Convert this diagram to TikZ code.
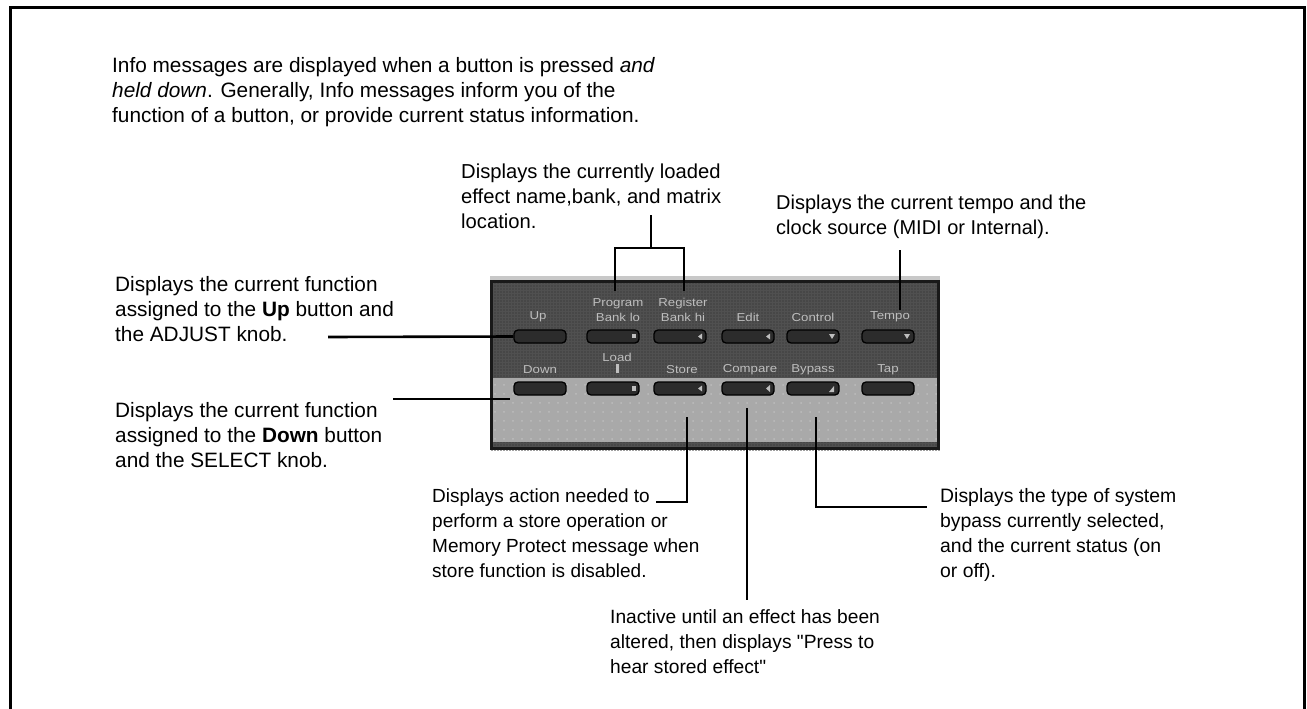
\documentclass[tikz,border=0pt]{standalone}
\usepackage{fontspec}
\setmainfont{Liberation Sans}
\newfontfamily\qfont{Liberation Sans}[Ligatures=TeXOff]
\newcommand{\sq}{{\qfont"}}
\usetikzlibrary{patterns.meta}
\definecolor{paneldark}{HTML}{505050}
\definecolor{paneldarkdot}{HTML}{3E3E3E}
\definecolor{panellight}{HTML}{A9A9A9}
\definecolor{paneldot}{HTML}{BDBDBD}
\definecolor{btnfill}{HTML}{2C2C2C}
\definecolor{plabcol}{HTML}{BEBEBE}
\definecolor{striplight}{HTML}{C8C8C8}
\begin{document}
\begin{tikzpicture}[x=1pt,y=-1pt,
  desc/.style={anchor=north west,inner sep=0pt,align=left,font=\fontsize{#1}{25}\selectfont},
  desc/.default=20.8,
  conn/.style={line width=2.6pt},
  btn/.style={draw=black,line width=1.3pt,fill=btnfill,rounded corners=4pt,minimum width=52pt,minimum height=13pt,inner sep=0pt},
  plab/.style={inner sep=0pt,align=center,text=plabcol,font=\fontsize{11.5}{14.5}\selectfont,xscale=1.15},
  glyph/.style={fill=plabcol,draw=none}
]
\useasboundingbox (0,0) rectangle (1307,709);
% outer frame
\draw[line width=3pt] (10,712) -- (10,8) -- (1304,8) -- (1304,712);

% panel
\fill[striplight] (490,276) rectangle (940,281);
\fill[paneldark] (490,280) rectangle (940,450);
\fill[pattern={Dots[distance=3pt,radius=0.8pt]},pattern color=paneldarkdot] (490,280) rectangle (940,450);
\fill[panellight] (493,378) rectangle (937,442);
\fill[pattern={Dots[distance=9pt,radius=1pt]},pattern color=paneldot] (493,378) rectangle (937,442);
\draw[line width=2.6pt,color=black!90] (491.5,281.5) rectangle (938.5,448.5);

% panel labels row 1
\node[plab] (lUp) at (538,317) {Up};
\node[plab] (lProg) at (618,310) {Program\\Bank lo};
\node[plab] (lReg) at (683,310) {Register\\Bank hi};
\node[plab] (lEdit) at (748,317) {Edit};
\node[plab] (lCtl) at (813,317) {Control};
\node[plab] (lTempo) at (890,317) {Tempo};
% panel labels row 2
\node[plab] (lDown) at (540,370) {Down};
\node[plab] (lLoad) at (617,357) {Load};
\node[plab] (lStore) at (682,370) {Store};
\node[plab] (lCmp) at (750,370) {Compare};
\node[plab] (lByp) at (813,370) {Bypass};
\node[plab] (lTap) at (888,370) {Tap};
\fill[plabcol] (615.5,364) rectangle (618.5,373);

% buttons
\node[btn] (bUp) at (540,336.5) {};
\node[btn] (bProg) at (613,336.5) {};
\node[btn] (bReg) at (680,336.5) {};
\node[btn] (bEdit) at (748,336.5) {};
\node[btn] (bCtl) at (813,336.5) {};
\node[btn] (bTempo) at (888,336.5) {};
\node[btn] (bDown) at (540,388.5) {};
\node[btn] (bLoad) at (613,388.5) {};
\node[btn] (bStore) at (680,388.5) {};
\node[btn] (bCmp) at (748,388.5) {};
\node[btn] (bByp) at (813,388.5) {};
\node[btn] (bTap) at (888,388.5) {};

% button glyphs
\fill[glyph] (632,334) rectangle (636,338);
\fill[glyph] (698,336.5) -- (702,333.5) -- (702,339.5) -- cycle;
\fill[glyph] (766,336.5) -- (770,333.5) -- (770,339.5) -- cycle;
\fill[glyph] (829,334) -- (835,334) -- (832,339) -- cycle;
\fill[glyph] (904,334) -- (910,334) -- (907,339) -- cycle;
\fill[glyph] (632,386) rectangle (636,391);
\fill[glyph] (698,388.5) -- (702,385.5) -- (702,391.5) -- cycle;
\fill[glyph] (766,388.5) -- (770,385) -- (770,392) -- cycle;
\fill[glyph] (829,392) -- (834,392) -- (834,386) -- cycle;

% description texts
\node[desc] (tInfo) at (112,57) {Info messages are displayed when a button is pressed \textit{and}\\\textit{held down}. Generally, Info messages inform you of the\\function of a button, or provide current status information.};
\node[desc=20.2] (tLoaded) at (461,164) {Displays the currently loaded\\effect name,bank, and matrix\\location.};
\node[desc=20] (tTempo) at (776,195) {Displays the current tempo and the\\clock source (MIDI or Internal).};
\node[desc] (tUp) at (115,276) {Displays the current function\\assigned to the \textbf{Up} button and\\the ADJUST knob.};
\node[desc] (tDown) at (115,402) {Displays the current function\\assigned to the \textbf{Down} button\\and the SELECT knob.};
\node[desc=19] (tStore) at (432,489) {Displays action needed to\\perform a store operation or\\Memory Protect message when\\store function is disabled.};
\node[desc=19.4] (tByp) at (940,488) {Displays the type of system\\bypass currently selected,\\and the current status (on\\or off).};
\node[desc=19.2] (tCmp) at (610,609) {Inactive until an effect has been\\altered, then displays \sq Press to\\hear stored effect\sq};

% connectors
\coordinate (cUpA) at (328,337);
\draw[conn] (cUpA) -- (bUp.west);
\coordinate (cDownA) at (393,399);
\coordinate (cDownB) at (510,399);
\draw[conn] (cDownA) -- (cDownB);

\coordinate (brTop) at (651,215);
\coordinate (brMid) at (651,248);
\coordinate (brL) at (615,248);
\coordinate (brR) at (684,248);
\coordinate (brLend) at (615,291);
\coordinate (brRend) at (684,291);
\draw[conn] (brTop) -- (brMid);
\draw[conn,line cap=rect] (brL) -- (brR);
\draw[conn] (brL) -- (brLend);
\draw[conn] (brR) -- (brRend);

\coordinate (tpTop) at (900,250);
\coordinate (tpEnd) at (900,310);
\draw[conn] (tpTop) -- (tpEnd);

\coordinate (stTop) at (687,417);
\coordinate (stEnd) at (656,502);
\draw[conn] (stTop) |- (stEnd);

\coordinate (cmTop) at (747,408);
\coordinate (cmEnd) at (747,600);
\draw[conn] (cmTop) -- (cmEnd);

\coordinate (byTop) at (816,417);
\coordinate (byEnd) at (927,507);
\draw[conn] (byTop) |- (byEnd);
\end{tikzpicture}
\end{document}
